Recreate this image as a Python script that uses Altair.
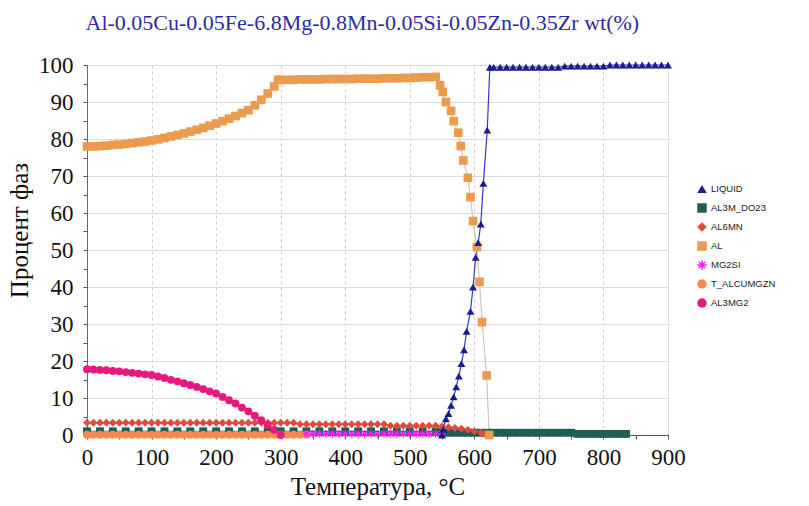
import altair as alt
import pandas as pd

# ---------------- data ----------------
# AL (fcc matrix)
AL_T = [0, 10, 20, 30, 40, 50, 60, 70, 80, 90, 100, 110, 120, 130, 140, 150, 160, 170, 180, 190,
        200, 210, 220, 230, 240, 250, 260, 270, 280, 290, 296, 300, 310, 320, 330, 340, 350, 360,
        370, 380, 390, 400, 410, 420, 430, 440, 450, 460, 470, 480, 490, 500, 510, 520, 530, 540,
        547, 551, 556, 564, 568, 575, 579, 583, 590, 594, 598, 604, 608, 612, 619, 623]
AL_V = [78.0, 78.0, 78.1, 78.2, 78.4, 78.5, 78.7, 78.9, 79.1, 79.3, 79.6, 79.9, 80.3, 80.7, 81.1,
        81.5, 82.0, 82.5, 83.0, 83.6, 84.2, 84.8, 85.5, 86.2, 87.0, 87.8, 89.1, 90.6, 92.3, 94.2,
        96.0, 96.0, 96.0, 96.0, 96.1, 96.1, 96.1, 96.1, 96.2, 96.2, 96.2, 96.2, 96.2, 96.3, 96.3,
        96.3, 96.3, 96.4, 96.4, 96.4, 96.5, 96.5, 96.6, 96.7, 96.7, 96.8,
        94.5, 92.7, 90.0, 87.6, 84.8, 81.7, 78.1, 74.2, 69.5, 64.3, 57.8, 50.8, 41.4, 30.5, 16.1, 0.0]

# LIQUID
LIQ_T = [550, 552, 556, 560, 564, 568, 572, 576, 580, 584, 588, 594, 598, 602, 606, 610, 614, 620,
         624, 630, 640, 650, 660, 670, 680, 690, 700, 710, 720, 730, 740, 750, 760, 770, 780, 790,
         800, 810, 820, 830, 840, 850, 860, 870, 880, 890, 900]
LIQ_V = [0.0, 1.5, 4.4, 5.8, 8.0, 10.3, 13.0, 15.9, 19.3, 23.0, 28.0, 33.4, 40.0, 48.0, 52.0, 57.0,
         68.0, 82.4, 99.4, 99.4, 99.4, 99.4, 99.4, 99.4, 99.4, 99.4, 99.4, 99.4, 99.4, 99.4, 99.7,
         99.7, 99.7, 99.7, 99.7, 99.7, 99.7, 100.0, 100.0, 100.0, 100.0, 100.0, 100.0, 100.0, 100.0,
         100.0, 100.0]

# AL3M_DO23
D023_T = [0, 20, 40, 60, 80, 100, 120, 140, 160, 180, 200, 220, 240, 260, 280, 300, 320, 340, 360,
          380, 400, 420, 440, 460, 480, 500, 520, 540, 550, 560, 570, 580, 590, 600, 610, 620, 630,
          640, 650, 660, 670, 680, 690, 700, 710, 720, 730, 740, 750, 760, 770, 780, 790, 800, 810,
          820, 830, 835]
D023_V = [1.0] * 28 + [0.6] * 21 + [0.3] * 9

# AL6MN
MN_T = [0, 10, 20, 30, 40, 50, 60, 70, 80, 90, 100, 110, 120, 130, 140, 150, 160, 170, 180, 190,
        200, 210, 220, 230, 240, 250, 260, 270, 280, 290, 300, 310, 320, 330, 340, 350, 360, 370,
        380, 390, 400, 410, 420, 430, 440, 450, 460, 470, 480, 490, 500, 510, 520, 530, 540, 550,
        560, 570, 580, 590, 600, 610, 615, 620]
MN_V = [3.3] * 33 + [2.9] * 14 + [2.5] * 8 + [2.3, 2.1, 1.9, 1.7, 1.4, 1.0, 0.6, 0.3, 0.0]

# MG2SI
SI_T = [340, 350, 360, 370, 380, 390, 400, 410, 420, 430, 440, 450, 460, 470, 480, 490, 500, 510,
        520, 530, 540, 550]
SI_V = [0.3] * 22

# T_ALCUMGZN
TZ_T = [0, 10, 20, 30, 40, 50, 60, 70, 80, 90, 100, 110, 120, 130, 140, 150, 160, 170, 180, 190,
        200, 210, 220, 230, 240, 250, 260, 270, 280, 290, 300, 310, 320, 330, 340]
TZ_V = [0.1] * 35

# AL3MG2
MG_T = [0, 10, 20, 30, 40, 50, 60, 70, 80, 90, 100, 110, 120, 130, 140, 150, 160, 170, 180, 190,
        200, 210, 220, 230, 240, 250, 260, 270, 280, 290, 300]
MG_V = [17.8, 17.7, 17.6, 17.5, 17.3, 17.2, 17.0, 16.8, 16.6, 16.4, 16.2, 15.8, 15.4, 14.9, 14.5,
        14.0, 13.5, 13.0, 12.4, 11.8, 11.2, 10.3, 9.4, 8.5, 7.4, 6.4, 5.2, 4.0, 2.7, 1.4, 0.0]

SERIES = ["LIQUID", "AL3M_DO23", "AL6MN", "AL", "MG2SI", "T_ALCUMGZN", "AL3MG2"]
COLORS = ["#1b1b8c", "#1f5e57", "#e04a3c", "#ec9b4e", "#ff1aff", "#f6894c", "#e8197c"]
LINE_COLORS = ["#3838cc", "#1f5e57", "#e04a3c", "#cfc6bc", "#ff1aff", "#f6894c", "#e8197c"]
ASTER = ("M-1,-0.15L1,-0.15L1,0.15L-1,0.15Z"
         "M-0.15,-1L0.15,-1L0.15,1L-0.15,1Z"
         "M-0.6,-0.81L0.81,0.6L0.6,0.81L-0.81,-0.6Z"
         "M-0.81,0.6L0.6,-0.81L0.81,-0.6L-0.6,0.81Z")
SHAPES = ["triangle-up", "square", "diamond", "square", ASTER, "circle", "circle"]

# drawing order (bottom -> top)
draw = [("AL3M_DO23", D023_T, D023_V), ("T_ALCUMGZN", TZ_T, TZ_V), ("MG2SI", SI_T, SI_V),
        ("AL6MN", MN_T, MN_V), ("AL", AL_T, AL_V), ("AL3MG2", MG_T, MG_V),
        ("LIQUID", LIQ_T, LIQ_V)]
rows = []
for name, ts, vs in draw:
    for t, v in zip(ts, vs):
        rows.append({"T": t, "P": v, "series": name})
df = pd.DataFrame(rows)

serif = "Liberation Serif"

x_enc = alt.X("T:Q", scale=alt.Scale(domain=[0, 900], nice=False),
              axis=alt.Axis(
                  title="Температура, °C",
                  values=list(range(0, 901, 50)),
                  labelExpr="datum.value % 100 === 0 ? datum.label : ''",
                  labelFont=serif, labelFontSize=23, labelColor="#111",
                  labelPadding=7, labelFlush=False,
                  titleFont=serif, titleFontSize=25, titleFontWeight="normal",
                  titleColor="#111", titlePadding=5,
                  tickSize=4, tickColor="#555", domainColor="#555",
                  grid=True, gridColor="#cfcfcf", gridDash=[3, 3],
                  gridOpacity={"condition": {"test": "datum.value % 100 !== 0 || datum.value === 0 || datum.value === 900", "value": 0}, "value": 1},
              ))
y_enc = alt.Y("P:Q", scale=alt.Scale(domain=[0, 100], nice=False),
              axis=alt.Axis(
                  title="Процент фаз",
                  values=list(range(0, 101, 5)),
                  labelExpr="datum.value % 10 === 0 ? datum.label : ''",
                  labelFont=serif, labelFontSize=23, labelColor="#111",
                  labelPadding=10,
                  titleFont=serif, titleFontSize=25, titleFontWeight="normal",
                  titleColor="#111", titlePadding=6, titleY=165,
                  tickSize=4, tickColor="#555", domainColor="#666",
                  grid=True, gridColor="#dcdcdc",
                  gridOpacity={"condition": {"test": "datum.value % 10 !== 0 || datum.value === 0", "value": 0}, "value": 1},
              ))

legend_cfg = dict(orient="none", legendX=610, legendY=119,
                  labelFont="Liberation Sans", labelFontSize=9.5,
                  labelColor="#222", symbolSize=90, rowPadding=9,
                  symbolStrokeWidth=0, labelOffset=4)

base = alt.Chart(df)

line_layers = []
for name, lc in zip(SERIES, LINE_COLORS):
    line_layers.append(
        base.transform_filter(alt.datum.series == name)
        .mark_line(strokeWidth=1.2, color=lc)
        .encode(x=x_enc, y=y_enc)
    )

points = base.mark_point(filled=True, opacity=1).encode(
    x=x_enc, y=y_enc,
    color=alt.Color("series:N", scale=alt.Scale(domain=SERIES, range=COLORS), title=None,
                    legend=alt.Legend(**legend_cfg)),
    shape=alt.Shape("series:N", scale=alt.Scale(domain=SERIES, range=SHAPES), title=None,
                    legend=alt.Legend(**legend_cfg)),
    size=alt.condition(alt.datum.series == "AL", alt.value(75), alt.value(62)),
)

chart = alt.layer(*line_layers, points).properties(
    width=581, height=370,
    autosize="none",
    padding={"left": 87, "top": 65, "right": 141, "bottom": 71},
    title=alt.TitleParams(
        "Al-0.05Cu-0.05Fe-6.8Mg-0.8Mn-0.05Si-0.05Zn-0.35Zr wt(%)",
        anchor="start", font=serif, fontSize=22, fontWeight="normal",
        color="#2b2ba3", offset=2, dx=78, baseline="alphabetic"),
).configure_view(stroke=None).configure(background="white")

chart.save("out.html", embed_options={"renderer": "svg", "actions": False})
